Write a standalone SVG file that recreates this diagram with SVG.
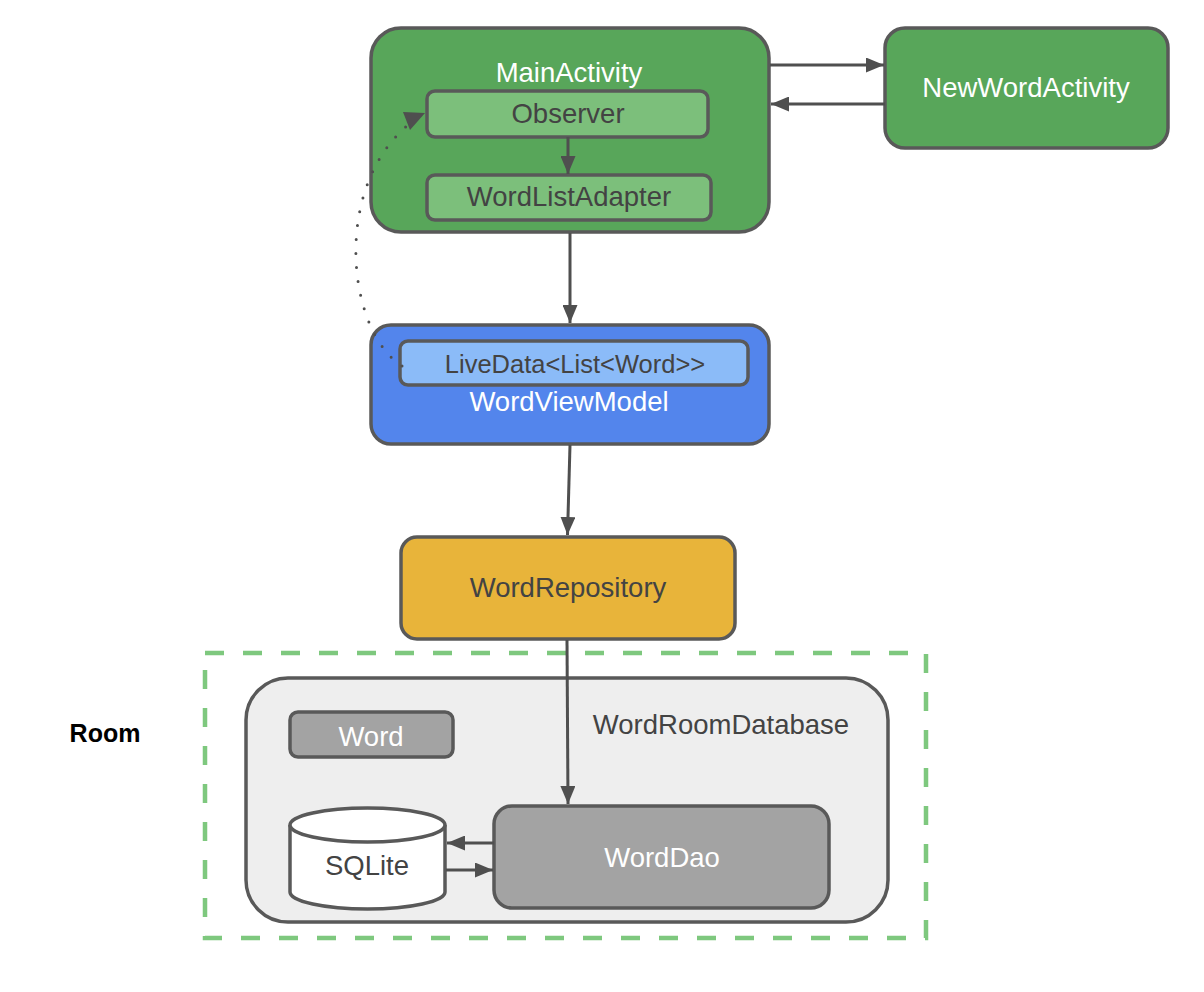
<svg xmlns="http://www.w3.org/2000/svg" width="1204" height="992" viewBox="0 0 1204 992">
<style>
  text { font-family: "Liberation Sans", Arial, sans-serif; text-anchor: middle; }
  .box { stroke: #595959; stroke-width: 3.5; }
  .lbl { font-size: 27.5px; }
  .w { fill: #ffffff; }
  .d { fill: #434343; }
  .green { fill: #58a65a; }
  .lgreen { fill: #7cbf7b; }
  .blue { fill: #5385ec; }
  .lblue { fill: #8bbbf8; }
  .gold { fill: #e8b43a; }
  .gray { fill: #a3a3a3; }
  .conn { stroke: #4f4f4f; stroke-width: 3; fill: none; }
</style>
<defs>
  <marker id="ah" markerUnits="userSpaceOnUse" markerWidth="18" markerHeight="15" refX="18" refY="7.5" orient="auto">
    <path d="M0,0 L18,7.5 L0,15 z" fill="#4f4f4f"/>
  </marker>
</defs>
<rect width="1204" height="992" fill="#ffffff"/>

<g id="room-area">
  <rect x="205" y="653" width="721" height="285" fill="none" stroke="#7ec87e" stroke-width="4.5" stroke-dasharray="19 19"/>
  <text x="105" y="742" font-size="25" font-weight="bold" fill="#000000">Room</text>
</g>

<g id="wordroomdatabase">
  <rect class="box" x="246" y="678" width="642" height="244" rx="42" fill="#eeeeee"/>
  <text class="lbl d" x="721" y="734">WordRoomDatabase</text>
</g>

<g id="mainactivity">
  <rect class="box green" x="371" y="28" width="398" height="204" rx="30"/>
  <text class="lbl w" x="569" y="82">MainActivity</text>
</g>
<g id="observer">
  <rect class="box lgreen" x="427" y="91" width="281" height="46" rx="8"/>
  <text class="lbl d" x="568" y="123">Observer</text>
</g>
<g id="wordlistadapter">
  <rect class="box lgreen" x="427" y="175" width="284" height="45" rx="8"/>
  <text class="lbl d" x="569" y="206">WordListAdapter</text>
</g>

<g id="newwordactivity">
  <rect class="box green" x="885" y="28" width="283" height="120" rx="20"/>
  <text class="lbl w" x="1026" y="97">NewWordActivity</text>
</g>

<g id="wordviewmodel">
  <rect class="box blue" x="371" y="325" width="398" height="119" rx="20"/>
  <text class="lbl w" x="569" y="411">WordViewModel</text>
</g>
<g id="livedata">
  <rect class="box lblue" x="400" y="341" width="348" height="44" rx="8"/>
  <text class="d" x="575" y="373" font-size="25.5">LiveData&lt;List&lt;Word&gt;&gt;</text>
</g>

<g id="wordrepository">
  <rect class="box gold" x="401" y="537" width="334" height="102" rx="16"/>
  <text class="lbl d" x="568" y="597">WordRepository</text>
</g>

<g id="word">
  <rect class="box gray" x="290" y="712" width="163" height="45" rx="8"/>
  <text class="lbl w" x="371" y="746">Word</text>
</g>

<g id="sqlite">
  <path class="box" d="M290,825 L290,892 A77.5,17 0 0 0 445,892 L445,825" fill="#ffffff"/>
  <ellipse class="box" cx="367.5" cy="825" rx="77.5" ry="17" fill="#ffffff"/>
  <text class="lbl d" x="367" y="875">SQLite</text>
</g>

<g id="worddao">
  <rect class="box gray" x="494" y="806" width="335" height="102" rx="18"/>
  <text class="lbl w" x="662" y="867">WordDao</text>
</g>

<g id="connectors">
  <line class="conn" x1="568" y1="137" x2="568" y2="174" marker-end="url(#ah)"/>
  <line class="conn" x1="770" y1="65" x2="884" y2="65" marker-end="url(#ah)"/>
  <line class="conn" x1="885" y1="104" x2="771" y2="104" marker-end="url(#ah)"/>
  <line class="conn" x1="570" y1="233" x2="570" y2="323" marker-end="url(#ah)"/>
  <line class="conn" x1="570" y1="445" x2="567.5" y2="535" marker-end="url(#ah)"/>
  <line class="conn" x1="567" y1="640" x2="568" y2="804" marker-end="url(#ah)"/>
  <line class="conn" x1="494" y1="843" x2="447" y2="843" marker-end="url(#ah)"/>
  <line class="conn" x1="446" y1="870" x2="493" y2="870" marker-end="url(#ah)"/>
  <path class="conn" d="M402,366 C345,330 330,175 420,116" stroke-width="4.5" stroke-linecap="round" stroke-dasharray="0 14"/>
  <path d="M403,112 L425,113 L410,130 z" fill="#4f4f4f"/>
</g>
</svg>
